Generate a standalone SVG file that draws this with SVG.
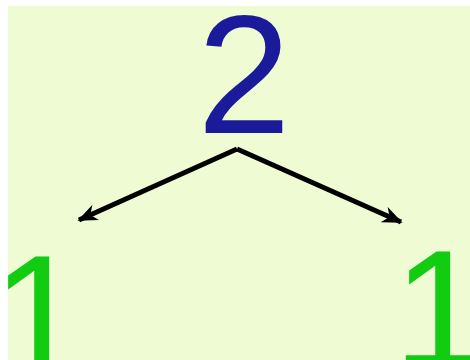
<svg xmlns="http://www.w3.org/2000/svg" width="470" height="360" viewBox="0 0 470 360">
<style>
.num{font-family:"Liberation Sans",Arial,sans-serif;font-size:168px}
.top{fill:#1a1a9a}
.leaf{fill:#11cc11}
.edge{stroke:#000;stroke-width:5;fill:none}
</style>
<defs>
<marker id="ah" viewBox="0 0 12 10" refX="11" refY="5" markerWidth="4" markerHeight="3.4" orient="auto" markerUnits="strokeWidth">
<path d="M0,0 L12,5 L0,10 L3.5,5 z" fill="#000"/>
</marker>
</defs>
<rect width="470" height="360" fill="#fff"/>
<rect x="8" y="6" width="462" height="354" fill="#eefbd3"/>
<g id="connectors">
<path class="edge" d="M237,149 L79,220" marker-end="url(#ah)"/>
<path class="edge" d="M237,149 L401,222" marker-end="url(#ah)"/>
</g>
<g id="node-2"><text class="num top" x="244" y="133" text-anchor="middle">2</text></g>
<g id="node-1-left"><text class="num leaf" x="-8" y="373">1</text></g>
<g id="node-1-right"><text class="num leaf" x="393" y="368">1</text></g>
</svg>
